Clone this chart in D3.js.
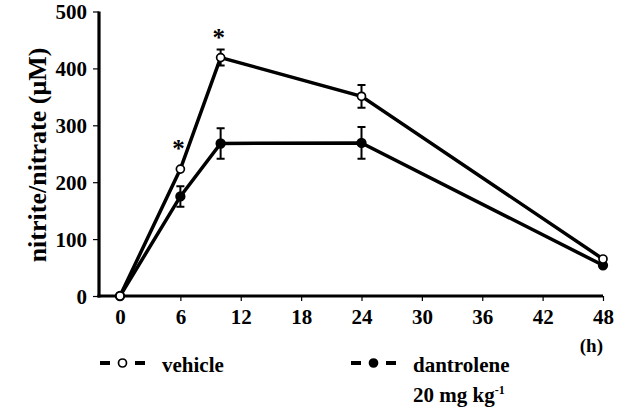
<!DOCTYPE html>
<html>
<head>
<meta charset="utf-8">
<script src="https://cdn.jsdelivr.net/npm/d3@7"></script>
<style>
  body { margin: 0; background: #fff; }
  text { font-family: "Liberation Serif", "Times New Roman", serif; font-weight: bold; fill: #000; }
</style>
</head>
<body>
<div id="chart"></div>
<script>
// time points (h)
const hours = [0, 6, 10, 24, 48];
const vehicle = [0, 223, 419, 351, 65];
const vehicleErr = [0, 0, 14, 20, 0];
const dantrolene = [0, 175, 268, 269, 54];
const dantroleneErr = [0, 18, 27, 28, 0];
const starAt = [6, 10];
const xTicks = [0, 6, 12, 18, 24, 30, 36, 42, 48];
const yTicks = [0, 100, 200, 300, 400, 500];

const width = 629, height = 407;

const svg = d3.select('#chart')
  .append('svg')
  .attr('width', width)
  .attr('height', height);

const x = d3.scaleLinear().domain([0, 48]).range([120, 603]);
const y = d3.scaleLinear().domain([0, 500]).range([296, 11.5]);

// y axis
const yAxis = svg.append('g')
  .attr('transform', 'translate(99,0)')
  .call(d3.axisLeft(y).tickValues(yTicks).tickSize(6).tickPadding(6));
yAxis.select('.domain').attr('stroke-width', 3.2).attr('d', `M0,${y(500)}V${y(0) + 1.6}`);
yAxis.selectAll('.tick line').attr('stroke-width', 1.2);
yAxis.selectAll('.tick text').style('font-size', '21px').attr('dy', '0.34em');

// x axis
const xAxis = svg.append('g')
  .attr('transform', `translate(0,${y(0)})`)
  .call(d3.axisBottom(x).tickValues(xTicks).tickSize(5).tickPadding(8));
xAxis.select('.domain').attr('stroke-width', 3.2).attr('d', `M97.4,0H${x(48)}`);
xAxis.selectAll('.tick line').attr('stroke-width', 1.2);
xAxis.selectAll('.tick text').style('font-size', '21px').attr('dy', '0.71em');

svg.append('text')
  .attr('x', 603).attr('y', 352)
  .attr('text-anchor', 'end')
  .style('font-size', '19px')
  .text('(h)');

svg.append('text')
  .attr('transform', 'translate(46,155) rotate(-90)')
  .attr('text-anchor', 'middle')
  .style('font-size', '26px')
  .text('nitrite/nitrate (\u03bcM)');

const line = d3.line().x((d, i) => x(hours[i])).y(d => y(d));

function drawSeries(vals, errs, filled) {
  const g = svg.append('g');
  g.append('path')
    .datum(vals)
    .attr('d', line)
    .attr('fill', 'none')
    .attr('stroke', '#000')
    .attr('stroke-width', 3.5);
  vals.forEach((v, i) => {
    if (errs[i] > 0) {
      const cx = x(hours[i]);
      g.append('path')
        .attr('d', `M${cx},${y(v - errs[i])}V${y(v + errs[i])}M${cx - 4},${y(v + errs[i])}H${cx + 4}M${cx - 4},${y(v - errs[i])}H${cx + 4}`)
        .attr('stroke', '#000')
        .attr('stroke-width', 2)
        .attr('fill', 'none');
    }
  });
  g.selectAll('circle')
    .data(vals)
    .enter()
    .append('circle')
    .attr('cx', (d, i) => x(hours[i]))
    .attr('cy', d => y(d))
    .attr('r', filled ? 4.3 : 4)
    .attr('fill', filled ? '#000' : '#fff')
    .attr('stroke', '#000')
    .attr('stroke-width', 1.7);
}

drawSeries(dantrolene, dantroleneErr, true);
drawSeries(vehicle, vehicleErr, false);

// significance marks
svg.selectAll('.star')
  .data(starAt)
  .enter()
  .append('text')
  .attr('class', 'star')
  .attr('x', d => x(d) - 2)
  .attr('y', d => y(vehicle[hours.indexOf(d)]) - 12)
  .attr('text-anchor', 'middle')
  .style('font-size', '25px')
  .text('*');

// legend
function legendItem(x0, filled, label) {
  const g = svg.append('g');
  g.append('path')
    .attr('d', `M${x0},363H${x0 + 10}M${x0 + 35},363H${x0 + 45}`)
    .attr('stroke', '#000')
    .attr('stroke-width', 3.8);
  g.append('circle')
    .attr('cx', x0 + 22.5).attr('cy', 363).attr('r', 4)
    .attr('fill', filled ? '#000' : '#fff')
    .attr('stroke', '#000').attr('stroke-width', 1.7);
  g.append('text')
    .attr('x', x0 + 62).attr('y', 372)
    .style('font-size', '21px')
    .text(label);
  return g;
}
legendItem(100, false, 'vehicle');
legendItem(351, true, 'dantrolene');

const dose = svg.append('text')
  .attr('x', 413).attr('y', 402)
  .style('font-size', '21px');
dose.append('tspan').text('20 mg kg');
dose.append('tspan').attr('dy', -8).style('font-size', '12px').text('-1');
</script>
</body>
</html>
